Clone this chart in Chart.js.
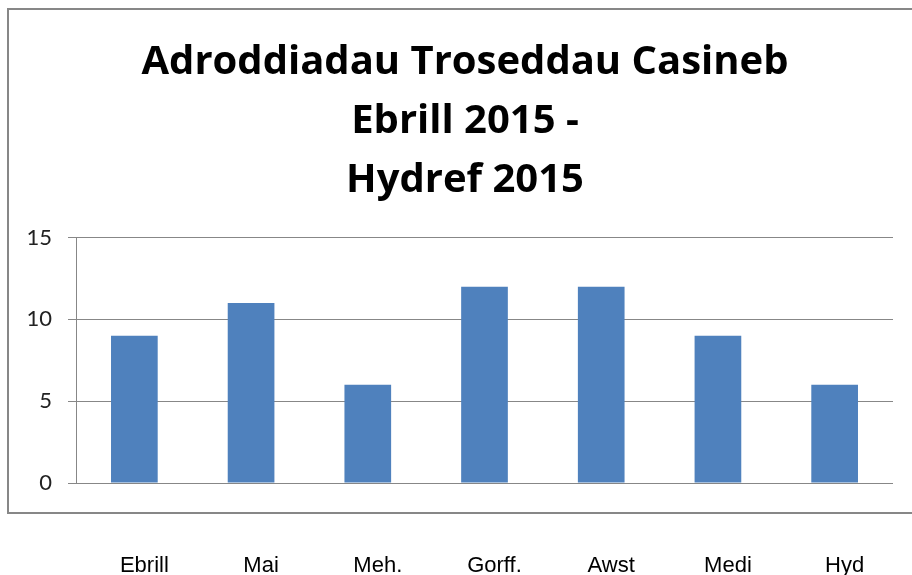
<!DOCTYPE html>
<html>
<head>
<meta charset="utf-8">
<script src="https://cdn.jsdelivr.net/npm/chart.js@4"></script>
<style>
html,body{margin:0;padding:0;background:#fff;}
#wrap{position:relative;width:912px;height:575px;}
</style>
</head>
<body>
<div id="wrap"><canvas id="hateChart"></canvas></div>
<script>
/* DATA */
const months = ['Ebrill','Mai','Meh.','Gorff.','Awst','Medi','Hyd'];
const incidents = [9,11,6,12,12,9,6];
const yTicks = [0,5,10,15];
const titleLines = ['Adroddiadau Troseddau Casineb','Ebrill 2015 -','Hydref 2015'];

/* FRAME ROUND THE CHART */
const framePlugin = {
id:'frame',
beforeDraw(chart){
const c = chart.ctx;
c.save();
c.strokeStyle = '#878787';
c.lineWidth = 2;
c.strokeRect(8, 9, 920, 504);
c.restore();
}
};

const hateChart = new Chart(
document.getElementById('hateChart'),
{
type:'bar',

data:{
labels:months,
datasets:[
{
data:incidents,
backgroundColor:'#4F81BD',
barPercentage:0.4,
categoryPercentage:1
}
]
},

options:{
responsive:true,
maintainAspectRatio:false,
animation:false,
layout:{padding:{left:22,right:4,top:0,bottom:0}},
plugins:{
legend:{display:false},
tooltip:{enabled:false},
title:{
display:true,
text:titleLines,
color:'#000',
font:{family:'Open Sans',size:40,weight:'bold',lineHeight:1.48},
padding:{top:33,bottom:27}
}
},
scales:{
x:{
afterFit(scale){
scale.height = 92;
scale.paddingLeft = 0;
scale.paddingRight = 19;
},
grid:{display:false},
border:{display:false},
ticks:{
color:'#000',
font:{family:'Liberation Sans',size:22},
padding:62,
labelOffset:10,
maxRotation:0,
autoSkip:false
}
},
y:{
min:0,
max:15,
afterFit(scale){ scale.width = 54; },
afterBuildTicks(axis){
axis.ticks = yTicks.map(v => ({value:v}));
},
grid:{color:'#878787',lineWidth:1,tickLength:8},
border:{display:true,color:'#878787',width:1},
ticks:{
color:'#222',
font:{family:'Lato',size:22},
padding:16
}
}
}
},

plugins:[framePlugin]
}
);
</script>
</body>
</html>
